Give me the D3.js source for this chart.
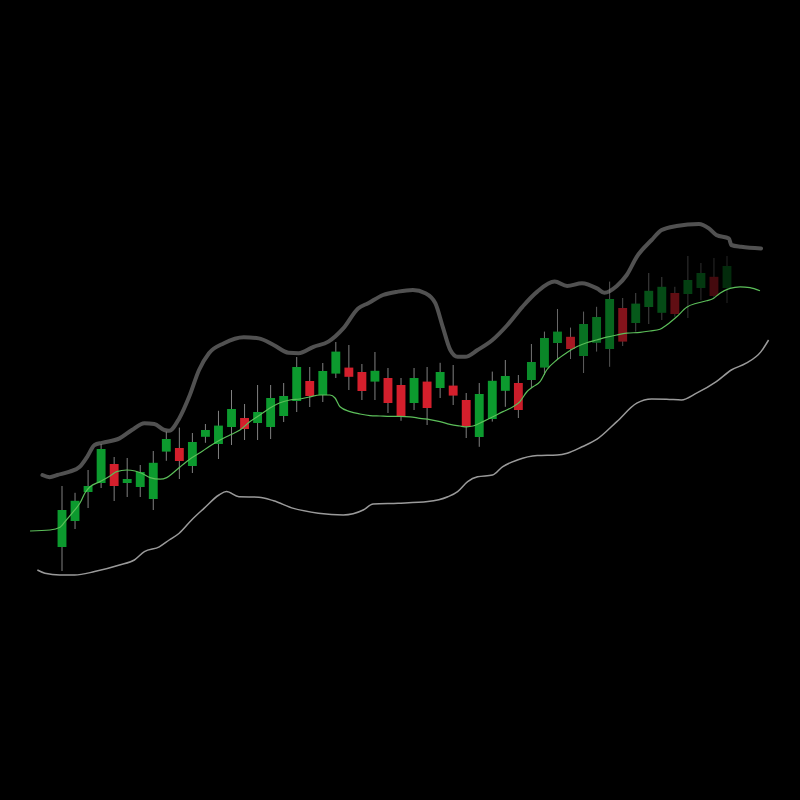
<!DOCTYPE html>
<html>
<head>
<meta charset="utf-8">
<script src="https://cdn.jsdelivr.net/npm/d3@7/dist/d3.min.js"></script>
<style>
  html, body { margin: 0; padding: 0; background: #000; }
  svg { display: block; }
</style>
</head>
<body>
<svg id="chart" width="800" height="800"></svg>
<script>
// ---- Data ----
const periods = d3.range(52);
const opens  = [113.25,119.75,127,129.25,134,129.25,128.25,125.25,137.1,138,133.5,140.8,139,143.25,145.5,144.25,143.25,146,149.75,154.75,151.25,156.6,158.1,157,154.6,155.5,153.75,149.25,154.6,153,153.6,150,140.75,145.25,152.3,154.25,155,158.1,164.25,165.8,161,164.3,162.75,173,169.25,173.25,171.8,176.75,176.5,178,180.8,178];
const closes = [122.5,124.8,128.5,137.75,128.5,130.25,132,134.3,140.25,134.75,139.5,142.5,143.6,147.75,142.75,147,150.5,151,158.25,151,157.25,162.1,155.8,152.25,157.3,149.25,146,155.5,148,157,151.1,143.3,151.5,154.8,156,147.5,159.5,165.5,167.1,162.75,169,170.75,175.25,164.6,174.1,177.3,178.3,171.5,180,181.75,176,183.5];
const highs  = [128.5,126.8,132.5,139,135.75,135.5,133.75,137.25,142.1,143.1,141.75,144,147.3,152.5,149,153.75,153.75,154.25,160.75,158.25,159.25,164.5,163.75,159,162,158,155.5,158,158.25,159.3,158.75,151.75,154.25,157.1,160,156.25,164,167.1,172.75,168.1,172.1,173.3,179.6,175.5,176.75,181.75,180.75,178.3,186,184.25,185.5,186];
const lows   = [107.25,117.75,123,128,124.75,125.75,125.75,122.5,134.8,130.25,131.75,139.3,135.25,138.75,140,140,140.25,144.5,147,148.25,149.5,155.5,152.5,150,150,146.75,144.8,147.5,143.75,150.5,148.75,140.5,138.3,144.6,148.3,145.5,153,156.25,160,160.25,156.75,162.1,158.3,163.5,167.1,169,170,170.8,170.5,175,175.25,174.25];

// Moving average (middle band): [period, value]
const maLine = [[-2.45,117.25],[-0.92,117.5],[-0.15,118.2],[0.23,119.6],[0.87,122.1],[1.38,124.25],[1.76,126.75],[2.15,128.3],[2.91,129.6],[3.68,131],[4.19,132.1],[4.96,132.5],[5.6,132.25],[6.11,131.7],[6.75,130.6],[7.52,130.2],[8.03,130.6],[8.51,131.75],[9.05,133.25],[9.82,135.25],[10.58,136.8],[11.35,138.5],[12.12,140],[12.88,141.25],[13.65,142.5],[14.42,144.6],[15.18,146.25],[15.95,148],[16.72,149.3],[17.48,150],[18.25,150.25],[19.02,150.8],[19.79,151.25],[20.55,151.25],[20.94,150.5],[21.32,148.3],[22.09,147.1],[22.85,146.5],[23.62,146.1],[24.39,146],[25.15,145.9],[25.92,145.9],[26.69,145.8],[27.45,145.4],[28.22,145.1],[28.99,144.6],[29.75,143.9],[30.52,143.5],[31.04,143.3],[31.52,143.5],[32.29,144.6],[33.05,145.8],[33.82,147.1],[34.59,148.3],[35.12,149.6],[35.64,152],[36.12,153.3],[36.66,154.6],[37.17,157.5],[37.94,160],[38.7,161.8],[39.47,163.3],[40.24,164.3],[41,165],[41.77,165.7],[42.54,166.25],[43.31,166.7],[44.33,166.9],[45.09,167.25],[45.86,167.7],[46.37,168.75],[47.14,170.8],[47.91,173.2],[48.67,174.2],[49.44,174.8],[49.95,175.4],[50.46,176.7],[51.23,177.9],[52,178.3],[52.76,178.1],[53.53,177.3]];

// Upper band: [period, value]
const upperBand = [[-1.5,131.25],[-0.94,130.7],[-0.36,131.25],[0.59,132.1],[1.36,133.3],[1.93,135.8],[2.5,138.75],[3.07,139.3],[4.41,140.4],[5.36,142.5],[6.32,144.2],[7.08,144],[7.85,142.5],[8.22,142.3],[8.99,145.4],[9.75,150.8],[10.51,157.5],[11.27,161.7],[12.42,164.2],[13.94,165.7],[15.09,165.4],[16.23,163.75],[17.38,161.8],[18.14,161.7],[19.29,163.3],[20.43,164.6],[21.57,167.9],[22.71,172.9],[23.48,174.2],[24.62,176.25],[25.77,177.1],[26.91,177.5],[27.87,176.7],[28.63,174.2],[29.2,168.3],[29.78,162.5],[30.34,160.8],[30.92,160.8],[31.87,162.5],[33.01,165],[34.16,168.75],[35.31,173.3],[36.45,177.1],[37.78,179.6],[38.74,178.5],[39.88,179.2],[41.03,177.9],[41.6,176.8],[42.55,178.5],[43.31,181.25],[44.08,185.8],[45.22,190],[45.99,192.5],[47.13,193.5],[48.85,194],[49.61,192.9],[50.18,191.25],[51.15,190.4],[51.33,188.75],[52.09,188.3],[53.61,187.9]];

// Lower band: [period, value]
const lowerBand = [[-1.89,107.5],[-1.31,106.7],[-0.17,106.25],[0.97,106.25],[2.5,107.1],[4.41,108.75],[5.55,110],[6.32,112.1],[7.46,113.3],[8.22,115],[8.99,116.7],[9.94,120],[10.89,122.9],[12.04,126.25],[12.61,127.1],[13.57,125.8],[15.09,125.7],[16.23,124.8],[17.76,122.9],[19.66,121.7],[21.57,121.25],[23.1,122.5],[23.86,124],[25.77,124.2],[28.06,124.6],[29.59,125.8],[30.34,127.1],[31.11,129.6],[31.87,130.8],[33.01,131.25],[33.78,133.3],[34.92,135],[36.45,136.1],[37.97,136.25],[38.74,136.7],[39.88,138.3],[41.03,140.2],[42.55,144.6],[44.08,149.2],[45.22,150.25],[46.37,150.2],[47.51,150],[48.66,151.7],[50.18,154.6],[51.33,157.5],[52.47,159.2],[53.61,162.1],[54.19,165]];

// ---- Drawing ----
const svg = d3.select("#chart");
svg.append("rect").attr("width", 800).attr("height", 800).attr("fill", "#000");

const x = d3.scaleLinear().domain([0, 51]).range([62, 727]);
const y = d3.scaleLinear().domain([100, 200]).range([600, 200]);
const step = x(1) - x(0);
const bodyW = step * 0.68;

const candles = periods.map(i => ({i, o: opens[i], c: closes[i], h: highs[i], l: lows[i]}));
const fade = d3.scaleLinear().domain([0, 34, 51]).range([1, 1, 0.28]).clamp(true);
const green = "#0c9a2e", red = "#d41f2c";

const line = d3.line().x(d => x(d[0])).y(d => y(d[1])).curve(d3.curveMonotoneX);

svg.append("path").datum(upperBand).attr("d", line)
  .attr("fill", "none").attr("stroke", "#515151").attr("stroke-width", 4)
  .attr("stroke-linejoin", "round").attr("stroke-linecap", "round");

svg.append("path").datum(lowerBand).attr("d", line)
  .attr("fill", "none").attr("stroke", "#9a9a9a").attr("stroke-width", 1.5);

const g = svg.append("g");
const cg = g.selectAll("g.candle").data(candles).join("g")
  .attr("class", "candle").attr("opacity", d => fade(d.i));

cg.append("line")
  .attr("x1", d => x(d.i)).attr("x2", d => x(d.i))
  .attr("y1", d => y(d.h)).attr("y2", d => y(d.l))
  .attr("stroke", "#808080").attr("stroke-width", 1);

cg.append("rect")
  .attr("x", d => x(d.i) - bodyW / 2)
  .attr("width", bodyW)
  .attr("y", d => y(Math.max(d.o, d.c)))
  .attr("height", d => Math.max(1, Math.abs(y(d.o) - y(d.c))))
  .attr("fill", d => d.c >= d.o ? green : red);

svg.append("path").datum(maLine).attr("d", line)
  .attr("fill", "none").attr("stroke", "#5cbf5a").attr("stroke-width", 1.2);
</script>
</body>
</html>
